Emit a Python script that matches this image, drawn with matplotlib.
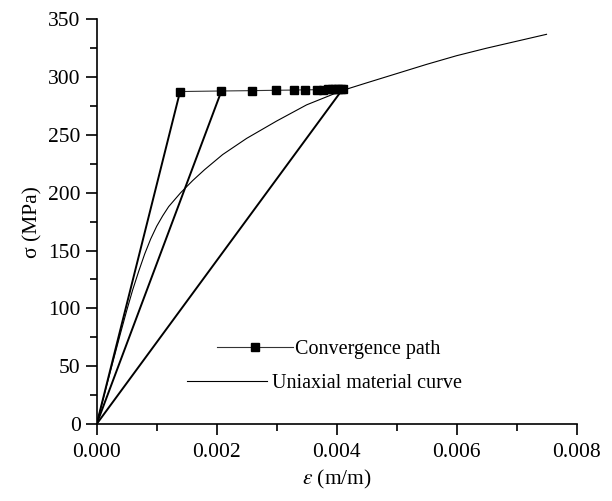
import matplotlib.pyplot as plt
from matplotlib.ticker import MultipleLocator

plt.rcParams['font.family'] = ['Liberation Serif', 'DejaVu Serif']
plt.rcParams['mathtext.fontset'] = 'stix'

# uniaxial material curve
curve_eps = [0.0, 0.0002, 0.0004, 0.0005, 0.0006, 0.0007, 0.0008, 0.0009, 0.001,
             0.0011, 0.0012, 0.0013, 0.0014, 0.0016, 0.0018, 0.0021, 0.0025,
             0.003, 0.0035, 0.0041, 0.0045, 0.005, 0.0055, 0.006, 0.0065,
             0.007, 0.0075]
curve_sig = [0, 40, 79, 98, 116, 132, 147, 160, 171,
             180, 188, 194, 200, 210.5, 220, 233, 247,
             262, 276, 288.5, 295, 303, 311, 318.5, 325,
             331, 337]

# convergence path iterations
path_eps = [0.00139, 0.00208, 0.00259, 0.00299, 0.00329, 0.00348, 0.00367,
            0.00377, 0.00385, 0.00392, 0.00398, 0.00403, 0.00407, 0.0041]
path_sig = [287.5, 288.0, 288.3, 288.6, 288.8, 289.0, 289.1,
            289.2, 289.3, 289.3, 289.4, 289.4, 289.5, 289.5]

# secant lines from origin
secant_ends = [(0.00139, 287.5), (0.00208, 288.0), (0.0041, 289.5)]

fig = plt.figure(figsize=(6.12, 5.01), dpi=100)
ax = fig.add_axes([0.158, 0.1537, 0.784, 0.8078])

for e, s in secant_ends:
    ax.plot([0, e], [0, s], color='black', lw=1.4)

conv, = ax.plot(path_eps, path_sig, color='#333333', lw=0.8, marker='s',
                markersize=6, markerfacecolor='black', markeredgecolor='black')
uni, = ax.plot(curve_eps, curve_sig, color='black', lw=0.8)

ax.set_xlim(0, 0.008)
ax.set_ylim(0, 350)
ax.xaxis.set_major_locator(MultipleLocator(0.002))
ax.xaxis.set_minor_locator(MultipleLocator(0.001))
ax.yaxis.set_major_locator(MultipleLocator(50))
ax.yaxis.set_minor_locator(MultipleLocator(25))
ax.xaxis.set_major_formatter(plt.FuncFormatter(lambda v, p: f'{v:.3f}'))

for side in ['top', 'right']:
    ax.spines[side].set_visible(False)
for side in ['left', 'bottom']:
    ax.spines[side].set_linewidth(1.2)
ax.tick_params(which='major', direction='out', length=8, width=1.2, labelsize=15.5)
ax.tick_params(which='minor', direction='out', length=5, width=1.2)
ax.tick_params(axis='x', pad=6)

ax.set_xlabel(r'$\varepsilon$ (m/m)', fontsize=15.5, labelpad=4)
ax.set_ylabel('σ (MPa)', fontsize=15.5, labelpad=4)

leg1 = ax.legend([conv], ['Convergence path'], loc='center left',
                 bbox_to_anchor=(0.25, 0.183), frameon=False, fontsize=14.5,
                 handlelength=3.8, handletextpad=0.1, borderpad=0, borderaxespad=0)
ax.add_artist(leg1)
ax.legend([uni], ['Uniaxial material curve'], loc='center left',
          bbox_to_anchor=(0.188, 0.101), frameon=False, fontsize=14.5,
          handlelength=4.0, handletextpad=0.25, borderpad=0, borderaxespad=0)

fig.savefig('out.png', dpi=100)
